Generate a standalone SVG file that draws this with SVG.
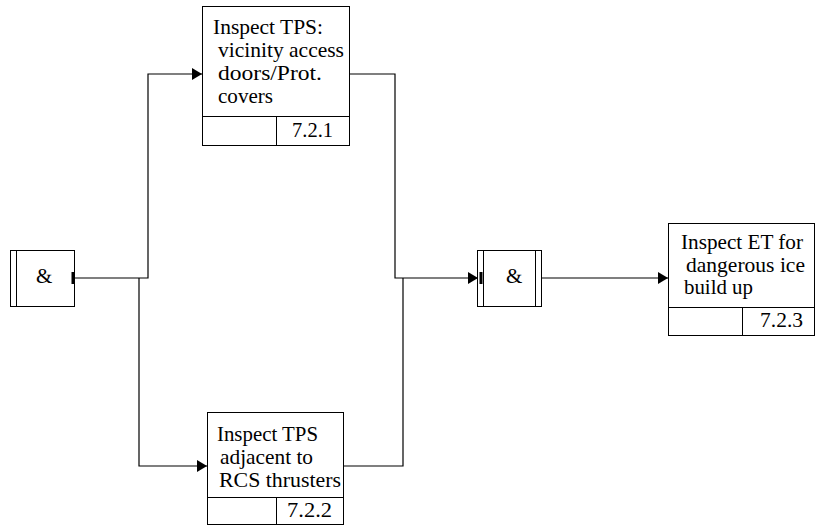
<svg xmlns="http://www.w3.org/2000/svg" width="816" height="529" viewBox="0 0 816 529">
<defs>
<marker id="arr" markerWidth="10" markerHeight="12" refX="10" refY="6" orient="auto" markerUnits="userSpaceOnUse">
<path d="M0,0 L10,6 L0,12 z" fill="#000"/>
</marker>
<style>
.box{fill:#fff;stroke:#000;stroke-width:1}
.ln{fill:none;stroke:#000;stroke-width:1}
.c{fill:none;stroke:#000;stroke-width:1.2}
</style>
</defs>
<rect width="816" height="529" fill="#fff"/>
<g id="connectors">
<polyline class="c" points="75,278 148,278 148,74 202,74" marker-end="url(#arr)"/>
<polyline class="c" points="139,278 139,466 207,466" marker-end="url(#arr)"/>
<polyline class="c" points="350,74 395,74 395,278 478,278" marker-end="url(#arr)"/>
<polyline class="c" points="343,466 403,466 403,278"/>
<polyline class="c" points="542,278 668,278" marker-end="url(#arr)"/>
</g>
<g font-family="Liberation Serif, Times New Roman, serif" font-size="21" fill="#000">
<g id="and1">
<rect class="box" x="10.5" y="250.5" width="64" height="56"/>
<line class="ln" x1="16.5" y1="250.5" x2="16.5" y2="306.5"/>
<rect x="71.5" y="272" width="3" height="12" fill="#000"/>
<text x="36" y="283">&amp;</text>
</g>
<g id="n721">
<rect class="box" x="202.5" y="6.5" width="147" height="139"/>
<line class="ln" x1="202.5" y1="116.5" x2="349.5" y2="116.5"/>
<line class="ln" x1="276.5" y1="116.5" x2="276.5" y2="145.5"/>
<text x="213" y="34" textLength="110" lengthAdjust="spacingAndGlyphs">Inspect TPS:</text>
<text x="218" y="57" textLength="126" lengthAdjust="spacingAndGlyphs">vicinity access</text>
<text x="218" y="80" textLength="104" lengthAdjust="spacingAndGlyphs">doors/Prot.</text>
<text x="218" y="103" textLength="55" lengthAdjust="spacingAndGlyphs">covers</text>
<text x="292" y="137" textLength="41" lengthAdjust="spacingAndGlyphs">7.2.1</text>
</g>
<g id="n722">
<rect class="box" x="207.5" y="412.5" width="136" height="112"/>
<line class="ln" x1="207.5" y1="497.5" x2="343.5" y2="497.5"/>
<line class="ln" x1="276.5" y1="497.5" x2="276.5" y2="524.5"/>
<text x="217" y="441" textLength="101" lengthAdjust="spacingAndGlyphs">Inspect TPS</text>
<text x="220" y="464" textLength="93" lengthAdjust="spacingAndGlyphs">adjacent to</text>
<text x="219" y="487" textLength="122" lengthAdjust="spacingAndGlyphs">RCS thrusters</text>
<text x="287" y="517" textLength="45" lengthAdjust="spacingAndGlyphs">7.2.2</text>
</g>
<g id="and2">
<rect class="box" x="477.5" y="250.5" width="64" height="56"/>
<line class="ln" x1="483.5" y1="250.5" x2="483.5" y2="306.5"/>
<line class="ln" x1="535.5" y1="250.5" x2="535.5" y2="306.5"/>
<rect x="479.5" y="272" width="3" height="12" fill="#000"/>
<text x="506" y="283">&amp;</text>
</g>
<g id="n723">
<rect class="box" x="668.5" y="223.5" width="146" height="112"/>
<line class="ln" x1="668.5" y1="307.5" x2="814.5" y2="307.5"/>
<line class="ln" x1="742.5" y1="307.5" x2="742.5" y2="335.5"/>
<text x="681" y="249" textLength="122" lengthAdjust="spacingAndGlyphs">Inspect ET for</text>
<text x="686" y="272" textLength="119" lengthAdjust="spacingAndGlyphs">dangerous ice</text>
<text x="684" y="294" textLength="69" lengthAdjust="spacingAndGlyphs">build up</text>
<text x="760" y="327" textLength="43" lengthAdjust="spacingAndGlyphs">7.2.3</text>
</g>
</g>
</svg>
